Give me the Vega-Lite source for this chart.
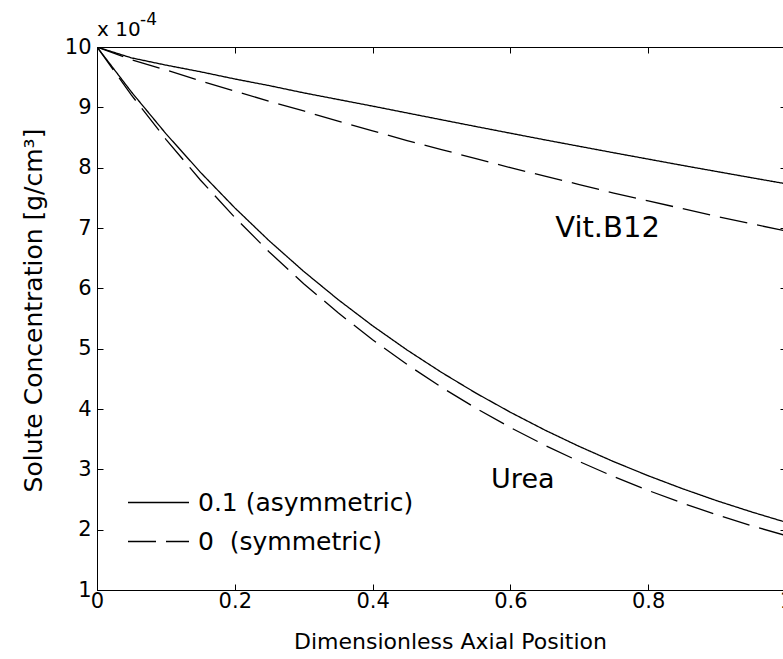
{
  "$schema": "https://vega.github.io/schema/vega-lite/v6.json",
  "width": 689,
  "height": 543,
  "autosize": "none",
  "padding": {"left": 97, "top": 47, "right": -3, "bottom": 69},
  "background": "white",
  "config": {
    "view": {"stroke": "black", "strokeWidth": 1},
    "font": "DejaVu Sans",
    "axis": {
      "grid": false,
      "domainColor": "black",
      "tickColor": "black",
      "tickSize": -6,
      "labelColor": "black",
      "labelFont": "DejaVu Sans",
      "titleFont": "DejaVu Sans",
      "titleColor": "black",
      "titleFontWeight": "normal"
    }
  },
  "datasets": {
    "curves": [
      {"x": 0, "c": 10, "solute": "Urea", "case": "0.1 (asymmetric)"},
      {"x": 0.05, "c": 9.254, "solute": "Urea", "case": "0.1 (asymmetric)"},
      {"x": 0.1, "c": 8.564, "solute": "Urea", "case": "0.1 (asymmetric)"},
      {"x": 0.15, "c": 7.925, "solute": "Urea", "case": "0.1 (asymmetric)"},
      {"x": 0.2, "c": 7.334, "solute": "Urea", "case": "0.1 (asymmetric)"},
      {"x": 0.25, "c": 6.787, "solute": "Urea", "case": "0.1 (asymmetric)"},
      {"x": 0.3, "c": 6.281, "solute": "Urea", "case": "0.1 (asymmetric)"},
      {"x": 0.35, "c": 5.813, "solute": "Urea", "case": "0.1 (asymmetric)"},
      {"x": 0.4, "c": 5.379, "solute": "Urea", "case": "0.1 (asymmetric)"},
      {"x": 0.45, "c": 4.978, "solute": "Urea", "case": "0.1 (asymmetric)"},
      {"x": 0.5, "c": 4.607, "solute": "Urea", "case": "0.1 (asymmetric)"},
      {"x": 0.55, "c": 4.263, "solute": "Urea", "case": "0.1 (asymmetric)"},
      {"x": 0.6, "c": 3.946, "solute": "Urea", "case": "0.1 (asymmetric)"},
      {"x": 0.65, "c": 3.651, "solute": "Urea", "case": "0.1 (asymmetric)"},
      {"x": 0.7, "c": 3.379, "solute": "Urea", "case": "0.1 (asymmetric)"},
      {"x": 0.75, "c": 3.127, "solute": "Urea", "case": "0.1 (asymmetric)"},
      {"x": 0.8, "c": 2.894, "solute": "Urea", "case": "0.1 (asymmetric)"},
      {"x": 0.85, "c": 2.678, "solute": "Urea", "case": "0.1 (asymmetric)"},
      {"x": 0.9, "c": 2.478, "solute": "Urea", "case": "0.1 (asymmetric)"},
      {"x": 0.95, "c": 2.294, "solute": "Urea", "case": "0.1 (asymmetric)"},
      {"x": 1.0, "c": 2.122, "solute": "Urea", "case": "0.1 (asymmetric)"},
      {"x": 0, "c": 10, "solute": "Urea", "case": "0\u00a0 (symmetric)"},
      {"x": 0.05, "c": 9.203, "solute": "Urea", "case": "0\u00a0 (symmetric)"},
      {"x": 0.1, "c": 8.47, "solute": "Urea", "case": "0\u00a0 (symmetric)"},
      {"x": 0.15, "c": 7.796, "solute": "Urea", "case": "0\u00a0 (symmetric)"},
      {"x": 0.2, "c": 7.175, "solute": "Urea", "case": "0\u00a0 (symmetric)"},
      {"x": 0.25, "c": 6.603, "solute": "Urea", "case": "0\u00a0 (symmetric)"},
      {"x": 0.3, "c": 6.077, "solute": "Urea", "case": "0\u00a0 (symmetric)"},
      {"x": 0.35, "c": 5.594, "solute": "Urea", "case": "0\u00a0 (symmetric)"},
      {"x": 0.4, "c": 5.148, "solute": "Urea", "case": "0\u00a0 (symmetric)"},
      {"x": 0.45, "c": 4.738, "solute": "Urea", "case": "0\u00a0 (symmetric)"},
      {"x": 0.5, "c": 4.36, "solute": "Urea", "case": "0\u00a0 (symmetric)"},
      {"x": 0.55, "c": 4.013, "solute": "Urea", "case": "0\u00a0 (symmetric)"},
      {"x": 0.6, "c": 3.693, "solute": "Urea", "case": "0\u00a0 (symmetric)"},
      {"x": 0.65, "c": 3.399, "solute": "Urea", "case": "0\u00a0 (symmetric)"},
      {"x": 0.7, "c": 3.129, "solute": "Urea", "case": "0\u00a0 (symmetric)"},
      {"x": 0.75, "c": 2.879, "solute": "Urea", "case": "0\u00a0 (symmetric)"},
      {"x": 0.8, "c": 2.65, "solute": "Urea", "case": "0\u00a0 (symmetric)"},
      {"x": 0.85, "c": 2.439, "solute": "Urea", "case": "0\u00a0 (symmetric)"},
      {"x": 0.9, "c": 2.245, "solute": "Urea", "case": "0\u00a0 (symmetric)"},
      {"x": 0.95, "c": 2.066, "solute": "Urea", "case": "0\u00a0 (symmetric)"},
      {"x": 1.0, "c": 1.901, "solute": "Urea", "case": "0\u00a0 (symmetric)"},
      {"x": 0, "c": 10, "solute": "Vit.B12", "case": "0.1 (asymmetric)"},
      {"x": 0.05, "c": 9.82, "solute": "Vit.B12", "case": "0.1 (asymmetric)"},
      {"x": 0.1, "c": 9.7, "solute": "Vit.B12", "case": "0.1 (asymmetric)"},
      {"x": 0.15, "c": 9.59, "solute": "Vit.B12", "case": "0.1 (asymmetric)"},
      {"x": 0.2, "c": 9.47, "solute": "Vit.B12", "case": "0.1 (asymmetric)"},
      {"x": 0.25, "c": 9.36, "solute": "Vit.B12", "case": "0.1 (asymmetric)"},
      {"x": 0.3, "c": 9.24, "solute": "Vit.B12", "case": "0.1 (asymmetric)"},
      {"x": 0.35, "c": 9.13, "solute": "Vit.B12", "case": "0.1 (asymmetric)"},
      {"x": 0.4, "c": 9.02, "solute": "Vit.B12", "case": "0.1 (asymmetric)"},
      {"x": 0.45, "c": 8.907, "solute": "Vit.B12", "case": "0.1 (asymmetric)"},
      {"x": 0.5, "c": 8.794, "solute": "Vit.B12", "case": "0.1 (asymmetric)"},
      {"x": 0.55, "c": 8.682, "solute": "Vit.B12", "case": "0.1 (asymmetric)"},
      {"x": 0.6, "c": 8.571, "solute": "Vit.B12", "case": "0.1 (asymmetric)"},
      {"x": 0.65, "c": 8.461, "solute": "Vit.B12", "case": "0.1 (asymmetric)"},
      {"x": 0.7, "c": 8.354, "solute": "Vit.B12", "case": "0.1 (asymmetric)"},
      {"x": 0.75, "c": 8.247, "solute": "Vit.B12", "case": "0.1 (asymmetric)"},
      {"x": 0.8, "c": 8.142, "solute": "Vit.B12", "case": "0.1 (asymmetric)"},
      {"x": 0.85, "c": 8.037, "solute": "Vit.B12", "case": "0.1 (asymmetric)"},
      {"x": 0.9, "c": 7.935, "solute": "Vit.B12", "case": "0.1 (asymmetric)"},
      {"x": 0.95, "c": 7.833, "solute": "Vit.B12", "case": "0.1 (asymmetric)"},
      {"x": 1.0, "c": 7.733, "solute": "Vit.B12", "case": "0.1 (asymmetric)"},
      {"x": 0, "c": 10, "solute": "Vit.B12", "case": "0\u00a0 (symmetric)"},
      {"x": 0.05, "c": 9.79, "solute": "Vit.B12", "case": "0\u00a0 (symmetric)"},
      {"x": 0.1, "c": 9.62, "solute": "Vit.B12", "case": "0\u00a0 (symmetric)"},
      {"x": 0.15, "c": 9.44, "solute": "Vit.B12", "case": "0\u00a0 (symmetric)"},
      {"x": 0.2, "c": 9.27, "solute": "Vit.B12", "case": "0\u00a0 (symmetric)"},
      {"x": 0.25, "c": 9.1, "solute": "Vit.B12", "case": "0\u00a0 (symmetric)"},
      {"x": 0.3, "c": 8.94, "solute": "Vit.B12", "case": "0\u00a0 (symmetric)"},
      {"x": 0.35, "c": 8.77, "solute": "Vit.B12", "case": "0\u00a0 (symmetric)"},
      {"x": 0.4, "c": 8.61, "solute": "Vit.B12", "case": "0\u00a0 (symmetric)"},
      {"x": 0.45, "c": 8.45, "solute": "Vit.B12", "case": "0\u00a0 (symmetric)"},
      {"x": 0.5, "c": 8.3, "solute": "Vit.B12", "case": "0\u00a0 (symmetric)"},
      {"x": 0.55, "c": 8.15, "solute": "Vit.B12", "case": "0\u00a0 (symmetric)"},
      {"x": 0.6, "c": 8.0, "solute": "Vit.B12", "case": "0\u00a0 (symmetric)"},
      {"x": 0.65, "c": 7.86, "solute": "Vit.B12", "case": "0\u00a0 (symmetric)"},
      {"x": 0.7, "c": 7.72, "solute": "Vit.B12", "case": "0\u00a0 (symmetric)"},
      {"x": 0.75, "c": 7.58, "solute": "Vit.B12", "case": "0\u00a0 (symmetric)"},
      {"x": 0.8, "c": 7.45, "solute": "Vit.B12", "case": "0\u00a0 (symmetric)"},
      {"x": 0.85, "c": 7.32, "solute": "Vit.B12", "case": "0\u00a0 (symmetric)"},
      {"x": 0.9, "c": 7.19, "solute": "Vit.B12", "case": "0\u00a0 (symmetric)"},
      {"x": 0.95, "c": 7.07, "solute": "Vit.B12", "case": "0\u00a0 (symmetric)"},
      {"x": 1.0, "c": 6.95, "solute": "Vit.B12", "case": "0\u00a0 (symmetric)"}
    ]
  },
  "resolve": {"axis": {"x": "independent", "y": "independent"}},
  "layer": [
    {
      "data": {"name": "curves"},
      "mark": {"type": "line", "color": "black", "strokeWidth": 1.3, "clip": true},
      "encoding": {
        "x": {
          "field": "x", "type": "quantitative",
          "scale": {"domain": [0, 1], "nice": false, "zero": false},
          "axis": {
            "orient": "bottom",
            "values": [0, 0.2, 0.4, 0.6, 0.8, 1],
            "format": "~f",
            "labelFontSize": 21,
            "labelPadding": 6,
            "labelFlush": false,
            "title": "Dimensionless Axial Position",
            "titleFontSize": 22,
            "titleX": 353,
            "titleY": 58,
            "titleBaseline": "alphabetic",
            "titleAlign": "center"
          }
        },
        "y": {
          "field": "c", "type": "quantitative",
          "scale": {"domain": [1, 10], "nice": false, "zero": false},
          "axis": {
            "orient": "left",
            "values": [1, 2, 3, 4, 5, 6, 7, 8, 9, 10],
            "labelFontSize": 21,
            "labelPadding": 12,
            "labelFlush": false,
            "title": "Solute Concentration [g/cm³]",
            "titleFontSize": 25,
            "titleAngle": -90,
            "titleX": -56,
            "titleY": 263,
            "titleBaseline": "alphabetic",
            "titleAlign": "center"
          }
        },
        "detail": {"field": "solute"},
        "strokeDash": {
          "field": "case", "type": "nominal",
          "scale": {"domain": ["0.1 (asymmetric)", "0\u00a0 (symmetric)"], "range": [[1, 0], [28, 10]]},
          "legend": {
            "orient": "none",
            "legendX": 30,
            "legendY": 436,
            "title": null,
            "padding": 0,
            "symbolType": "stroke",
            "symbolSize": 3721,
            "symbolStrokeWidth": 1.3,
            "symbolStrokeColor": "black",
            "labelFontSize": 25,
            "labelFont": "DejaVu Sans",
            "labelColor": "black",
            "labelOffset": 8,
            "labelLimit": 0,
            "clipHeight": 39,
            "rowPadding": 0
          }
        }
      }
    },
    {
      "mark": {"type": "point", "opacity": 0},
      "encoding": {
        "x": {"datum": 0, "type": "quantitative", "axis": {"orient": "top", "values": [0, 0.2, 0.4, 0.6, 0.8, 1], "labels": false, "title": null}},
        "y": {"datum": 1, "type": "quantitative", "axis": {"orient": "right", "values": [1, 2, 3, 4, 5, 6, 7, 8, 9, 10], "labels": false, "title": null}}
      }
    },
    {
      "data": {"values": [{}]},
      "mark": {"type": "text", "text": "Vit.B12", "fontSize": 29, "font": "DejaVu Sans", "align": "left", "baseline": "middle", "color": "black"},
      "encoding": {"x": {"datum": 0.665, "type": "quantitative", "axis": null}, "y": {"datum": 7.0, "type": "quantitative", "axis": null}}
    },
    {
      "data": {"values": [{}]},
      "mark": {"type": "text", "text": "Urea", "fontSize": 27, "font": "DejaVu Sans", "align": "left", "baseline": "middle", "color": "black"},
      "encoding": {"x": {"datum": 0.572, "type": "quantitative", "axis": null}, "y": {"datum": 2.82, "type": "quantitative", "axis": null}}
    },
    {
      "data": {"values": [{}]},
      "mark": {"type": "text", "text": "x 10", "fontSize": 20, "font": "DejaVu Sans", "align": "left", "baseline": "alphabetic", "color": "black"},
      "encoding": {"x": {"datum": 0, "type": "quantitative", "axis": null}, "y": {"datum": 10.18, "type": "quantitative", "axis": null}}
    },
    {
      "data": {"values": [{}]},
      "mark": {"type": "text", "text": "-4", "fontSize": 17, "font": "DejaVu Sans", "align": "left", "baseline": "alphabetic", "color": "black"},
      "encoding": {"x": {"datum": 0.0624, "type": "quantitative", "axis": null}, "y": {"datum": 10.365, "type": "quantitative", "axis": null}}
    }
  ]
}
